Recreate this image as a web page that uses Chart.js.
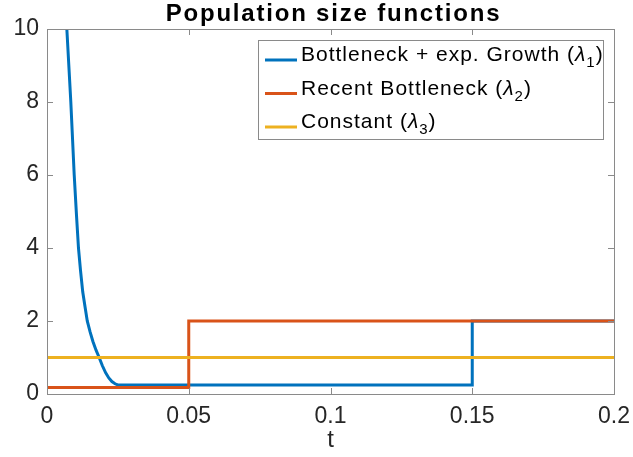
<!DOCTYPE html>
<html>
<head>
<meta charset="utf-8">
<script src="https://cdn.jsdelivr.net/npm/chart.js@4.4.1/dist/chart.umd.min.js"></script>
<style>
    html, body { margin: 0; padding: 0; background: #fff; }
    canvas { display: block; }
</style>
</head>
<body>
<canvas id="chart" width="633" height="457"></canvas>
<script>
// values
const growthT = [0.0055, 0.0062, 0.007, 0.0077, 0.0084, 0.009, 0.0096, 0.0104, 0.0111, 0.0118,
    0.0126, 0.0134, 0.0142, 0.0152, 0.0162, 0.0173, 0.0184, 0.0195, 0.0207, 0.0218,
    0.0229, 0.024, 0.025, 0.15, 0.15, 0.2];
const growthN = [13, 11.5, 10, 9, 8, 7, 6, 4.9, 4, 3.4,
    2.8, 2.4, 2.0, 1.7, 1.44, 1.2, 1.0, 0.78, 0.58, 0.44,
    0.34, 0.28, 0.25, 0.25, 2, 2];

const recentT = [0, 0.05, 0.05, 0.2];
const recentN = [0.18, 0.18, 2, 2];

const constT = [0, 0.2];
const constN = [1, 1];

const xTicks = [0, 0.05, 0.1, 0.15, 0.2];
const yTicks = [0, 2, 4, 6, 8, 10];

const seriesNames = ["Bottleneck + exp. Growth (", "Recent Bottleneck (", "Constant ("];
const seriesSubs = ["1", "2", "3"];
const seriesColors = ["#0072BD", "#D95319", "#EDB120"];

const FONT = "'Liberation Sans', Arial, Helvetica, sans-serif";
const TEXT = "#262626";
const FRAME = "#8a8a8a";

const toPoints = (ts, ns) => ts.map((t, i) => ({ x: t, y: ns[i] }));

const makeDataset = (idx, ts, ns, order) => ({
    label: seriesNames[idx] + "λ" + seriesSubs[idx] + ")",
    data: toPoints(ts, ns),
    borderColor: seriesColors[idx],
    borderWidth: 3,
    pointRadius: 0,
    tension: 0,
    fill: false,
    order: order,
});

// matlab's helvetica sets wider than liberation sans
const spacing = {
    id: "spacing",
    beforeInit: (chart) => {
        chart.ctx.letterSpacing = "1.3px";
    },
};

// title, frame, inward ticks and legend box
const decorations = {
    id: "decorations",
    afterDraw: (chart) => {
        const ctx = chart.ctx;
        const { left, right, top, bottom } = chart.chartArea;
        const xs = chart.scales.x;
        const ys = chart.scales.y;
        ctx.save();

        // title
        ctx.fillStyle = "#000";
        ctx.letterSpacing = "1.8px";
        ctx.font = "bold 24px " + FONT;
        ctx.textAlign = "center";
        ctx.textBaseline = "alphabetic";
        ctx.fillText("Population size functions", (left + right) / 2 + 3, 21);

        // frame
        ctx.strokeStyle = FRAME;
        ctx.lineWidth = 1;
        ctx.strokeRect(Math.round(left) + 0.5, Math.round(top) + 0.5,
            Math.round(right - left), Math.round(bottom - top));

        // inward ticks
        ctx.beginPath();
        xTicks.forEach((v) => {
            const px = Math.round(xs.getPixelForValue(v)) + 0.5;
            ctx.moveTo(px, bottom);
            ctx.lineTo(px, bottom - 6);
            ctx.moveTo(px, top);
            ctx.lineTo(px, top + 6);
        });
        yTicks.forEach((v) => {
            const py = Math.round(ys.getPixelForValue(v)) + 0.5;
            ctx.moveTo(left, py);
            ctx.lineTo(left + 6, py);
            ctx.moveTo(right, py);
            ctx.lineTo(right - 6, py);
        });
        ctx.stroke();

        // legend
        const bx = 258, by = 40, bw = 345, bh = 99;
        ctx.fillStyle = "#fff";
        ctx.fillRect(bx, by, bw, bh);
        ctx.strokeStyle = FRAME;
        ctx.strokeRect(bx + 0.5, by + 0.5, bw, bh);
        ctx.textAlign = "left";
        ctx.letterSpacing = "1px";
        seriesNames.forEach((name, i) => {
            const base = 61 + i * 33.5;
            ctx.strokeStyle = seriesColors[i];
            ctx.lineWidth = 3;
            ctx.beginPath();
            ctx.moveTo(265, base - 1);
            ctx.lineTo(297, base - 1);
            ctx.stroke();

            let x = 301;
            ctx.fillStyle = "#000";
            ctx.font = "21px " + FONT;
            ctx.fillText(name, x, base);
            x += ctx.measureText(name).width;
            ctx.font = "italic 21px " + FONT;
            ctx.fillText("λ", x, base);
            x += ctx.measureText("λ").width;
            ctx.font = "15px " + FONT;
            ctx.fillText(seriesSubs[i], x, base + 6);
            x += ctx.measureText(seriesSubs[i]).width;
            ctx.font = "21px " + FONT;
            ctx.fillText(")", x, base);
        });
        ctx.restore();
    },
};

Chart.defaults.font.family = FONT;
Chart.defaults.color = TEXT;

new Chart(document.getElementById("chart"), {
    type: "line",
    data: {
        datasets: [
            makeDataset(0, growthT, growthN, 3),
            makeDataset(1, recentT, recentN, 2),
            makeDataset(2, constT, constN, 1),
        ],
    },
    options: {
        responsive: false,
        animation: false,
        layout: { padding: { top: 29, right: 19, left: 0, bottom: 0 } },
        plugins: {
            legend: { display: false },
            title: { display: false },
            tooltip: { enabled: false },
        },
        scales: {
            x: {
                type: "linear",
                min: 0,
                max: 0.2,
                afterBuildTicks: (axis) => {
                    axis.ticks = xTicks.map((v) => ({ value: v }));
                },
                afterFit: (axis) => {
                    axis.height = 63;
                    axis.paddingLeft = 0;
                    axis.paddingRight = 0;
                },
                grid: { display: false, drawTicks: false },
                border: { display: false },
                ticks: {
                    font: { size: 23 },
                    color: TEXT,
                    padding: 9,
                    maxRotation: 0,
                    callback: (v) => String(+v.toFixed(2)),
                },
                title: {
                    display: true,
                    text: "t",
                    color: TEXT,
                    font: { size: 24 },
                    padding: { top: 0, bottom: 2 },
                },
            },
            y: {
                min: 0,
                max: 10,
                afterBuildTicks: (axis) => {
                    axis.ticks = yTicks.map((v) => ({ value: v }));
                },
                afterFit: (axis) => {
                    axis.width = 47;
                    axis.paddingTop = 0;
                    axis.paddingBottom = 0;
                },
                grid: { display: false, drawTicks: false },
                border: { display: false },
                ticks: {
                    font: { size: 23 },
                    color: TEXT,
                    padding: 8,
                },
            },
        },
    },
    plugins: [spacing, decorations],
});
</script>
</body>
</html>
